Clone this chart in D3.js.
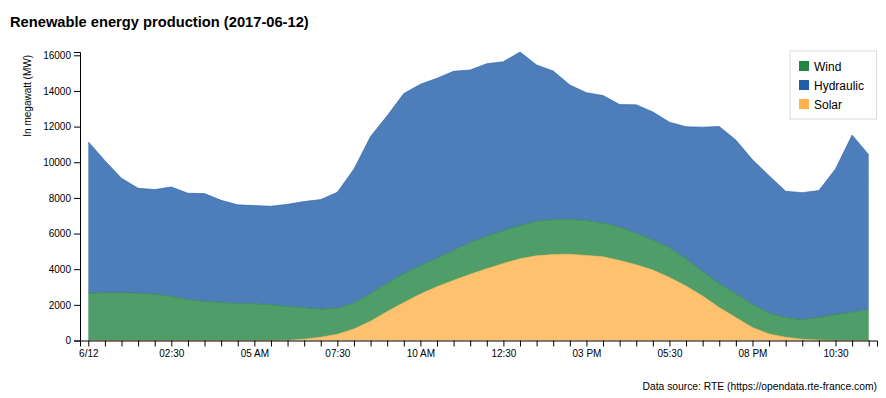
<!DOCTYPE html>
<html>
<head>
<meta charset="utf-8">
<script src="https://cdn.jsdelivr.net/npm/d3@7"></script>
<style>
  body { margin: 0; background: #fff; }
  svg text { font-family: "Liberation Sans", Arial, sans-serif; }
</style>
</head>
<body>
<div id="chart"></div>
<script>
// half-hourly production, 2017-06-12 (MW)
var times = ["00:00","00:30","01:00","01:30","02:00","02:30","03:00","03:30",
             "04:00","04:30","05:00","05:30","06:00","06:30","07:00","07:30",
             "08:00","08:30","09:00","09:30","10:00","10:30","11:00","11:30",
             "12:00","12:30","13:00","13:30","14:00","14:30","15:00","15:30",
             "16:00","16:30","17:00","17:30","18:00","18:30","19:00","19:30",
             "20:00","20:30","21:00","21:30","22:00","22:30","23:00","23:30"];

var solar = [0, 0, 0, 0, 0, 0, 0, 0,
             0, 0, 0, 0, 10, 75, 185, 350,
             650, 1080, 1620, 2125, 2605, 3020, 3375, 3710,
             4030, 4325, 4590, 4755, 4830, 4845, 4770, 4700,
             4490, 4250, 3950, 3540, 3055, 2495, 1845, 1285,
             725, 370, 185, 70, 25, 5, 0, 0];

var wind = [2660, 2685, 2685, 2650, 2610, 2480, 2295, 2200,
            2140, 2085, 2070, 2015, 1910, 1770, 1585, 1455,
            1455, 1550, 1600, 1625, 1605, 1600, 1695, 1790,
            1820, 1845, 1860, 1935, 1955, 1960, 1960, 1900,
            1865, 1770, 1700, 1670, 1535, 1380, 1345, 1345,
            1290, 1175, 1100, 1105, 1280, 1450, 1600, 1735];

var hydraulic = [8490, 7405, 6415, 5890, 5855, 6135, 5965, 6040,
                 5725, 5525, 5500, 5515, 5720, 5950, 6135, 6510,
                 7515, 8815, 9385, 10100, 10165, 10090, 10035, 9675,
                 9680, 9470, 9735, 8765, 8335, 7530, 7175, 7140,
                 6880, 7200, 7175, 7040, 7400, 8095, 8815, 8615,
                 8125, 7700, 7085, 7120, 7105, 8165, 9925, 8685];

var seriesKeys = ["solar", "wind", "hydraulic"];
var legendItems = [
  {key: "wind", label: "Wind"},
  {key: "hydraulic", label: "Hydraulic"},
  {key: "solar", label: "Solar"}
];
var colors = {wind: "#238443", hydraulic: "#225ea8", solar: "#feb24c"};

var W = 886, H = 398;
var margin = {top: 52, right: 9, bottom: 57.5, left: 80};
var width = W - margin.left - margin.right;
var height = H - margin.top - margin.bottom;

var parseTime = d3.timeParse("%Y-%m-%d %H:%M");
var rows = times.map(function (t, i) {
  return {date: parseTime("2017-06-12 " + t), solar: solar[i], wind: wind[i], hydraulic: hydraulic[i]};
});

var svg = d3.select("#chart").append("svg")
  .attr("width", W)
  .attr("height", H);

var g = svg.append("g")
  .attr("transform", "translate(" + margin.left + "," + margin.top + ")");

var x = d3.scaleTime()
  .domain([d3.timeMinute.offset(rows[0].date, -15), d3.timeMinute.offset(rows[rows.length - 1].date, 15)])
  .range([0, width]);

var layers = d3.stack().keys(seriesKeys)(rows);

var y = d3.scaleLinear()
  .domain([0, d3.max(layers[layers.length - 1], function (d) { return d[1]; })])
  .range([height, 0]);

var area = d3.area()
  .x(function (d) { return x(d.data.date); })
  .y0(function (d) { return y(d[0]); })
  .y1(function (d) { return y(d[1]); });

var topLine = d3.line()
  .x(function (d) { return x(d.data.date); })
  .y(function (d) { return y(d[1]); });

g.selectAll(".layer")
  .data(layers)
  .enter().append("path")
  .attr("class", "layer")
  .attr("d", area)
  .attr("fill", function (d) { return colors[d.key]; })
  .attr("fill-opacity", 0.8);

g.selectAll(".edge")
  .data(layers)
  .enter().append("path")
  .attr("class", "edge")
  .attr("d", topLine)
  .attr("fill", "none")
  .attr("stroke", function (d) { return colors[d.key]; })
  .attr("stroke-opacity", 0.6)
  .attr("stroke-width", 1);

// axes
var tickLabel = function (d) {
  var mins = d.getHours() * 60 + d.getMinutes();
  if (mins % 150 !== 0) return "";
  if (mins === 0) return d3.timeFormat("%-m/%d")(d);
  if (d.getMinutes() === 0) return d3.timeFormat("%I %p")(d);
  return d3.timeFormat("%I:%M")(d);
};

g.append("g")
  .attr("class", "x axis")
  .attr("transform", "translate(0," + height + ")")
  .call(d3.axisBottom(x).ticks(d3.timeMinute.every(30)).tickFormat(tickLabel));

g.append("g")
  .attr("class", "y axis")
  .call(d3.axisLeft(y).tickFormat(d3.format("d")));

g.append("text")
  .attr("transform", "rotate(-90)")
  .attr("x", -3)
  .attr("y", -49)
  .attr("text-anchor", "end")
  .attr("font-size", 10)
  .text("In megawatt (MW)");

// title and source
svg.append("text")
  .attr("x", 10)
  .attr("y", 26.5)
  .attr("font-size", 14.7)
  .attr("font-weight", "bold")
  .text("Renewable energy production (2017-06-12)");

svg.append("text")
  .attr("x", 877)
  .attr("y", 390)
  .attr("text-anchor", "end")
  .attr("font-size", 10.3)
  .text("Data source: RTE (https://opendata.rte-france.com)");

// legend
var legend = svg.append("g")
  .attr("transform", "translate(790,51)");

legend.append("rect")
  .attr("width", 86.5)
  .attr("height", 68)
  .attr("fill", "#fff")
  .attr("stroke", "#d9d9d9");

var item = legend.selectAll(".item")
  .data(legendItems)
  .enter().append("g")
  .attr("class", "item")
  .attr("transform", function (d, i) { return "translate(9," + (10 + i * 19) + ")"; });

item.append("rect")
  .attr("width", 10)
  .attr("height", 10)
  .attr("fill", function (d) { return colors[d.key]; });

item.append("text")
  .attr("x", 15)
  .attr("y", 9.5)
  .attr("font-size", 12)
  .text(function (d) { return d.label; });
</script>
</body>
</html>
